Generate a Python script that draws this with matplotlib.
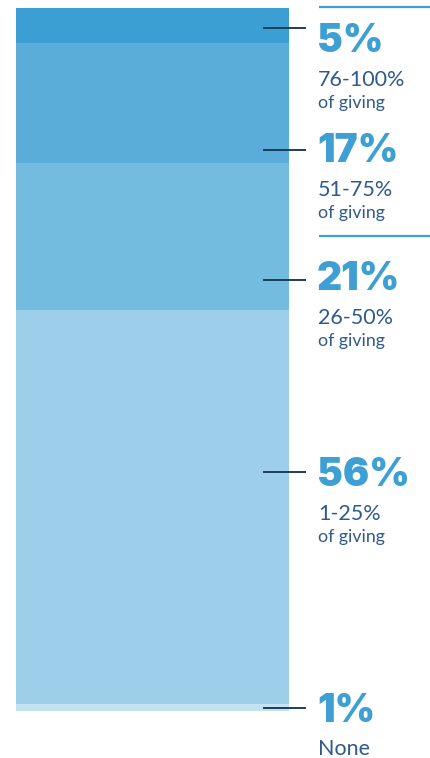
import matplotlib
matplotlib.use("Agg")
import matplotlib.pyplot as plt

# share of donors by portion of giving, bottom to top
ranges = ["None", "1-25%", "26-50%", "51-75%", "76-100%"]
shares = [1, 56, 21, 17, 5]
pct_labels = ["1%", "56%", "21%", "17%", "5%"]
sub_labels = ["None", "1-25%\nof giving", "26-50%\nof giving", "51-75%\nof giving", "76-100%\nof giving"]

seg_colors = ["#c5e2f3", "#9dcfeb", "#74bbe0", "#5aadd9", "#3c9fd4"]
accent = "#3e9fd4"
navy = "#2f5a8c"
tick_col = "#1b3f5c"

W, H = 431, 758
fig = plt.figure(figsize=(W / 100, H / 100), dpi=100)

# bar spans pixel rows 8..711, starting at x=16
bar_left, bar_w = 16, 273
top_px, bot_px = 8, 711
ax = fig.add_axes([bar_left / W, 1 - bot_px / H, (W - bar_left) / W, (bot_px - top_px) / H])
ax.set_xlim(0, W - bar_left)
ax.set_ylim(0, sum(shares))
ax.axis("off")

bottom = 0
for s, c in zip(shares, seg_colors):
    ax.bar(0, s, width=bar_w, bottom=bottom, align="edge", color=c, linewidth=0)
    bottom += s

# label anchors (pixel rows): leader line y and text center y
px_per_unit = (bot_px - top_px) / sum(shares)
def to_data(y_px):
    return (bot_px - y_px) / px_per_unit

tick_rows = [708, 472, 280, 150, 28]
text_rows = [711, 476, 280, 152, 42]

x_tick0, x_tick1 = 263 - bar_left, 306 - bar_left
x_text = 317 - bar_left
for pl, sl, tr, xr in zip(pct_labels, sub_labels, tick_rows, text_rows):
    ax.plot([x_tick0, x_tick1], [to_data(tr)] * 2, color=tick_col, lw=1.4,
            clip_on=False, solid_capstyle="butt")
    ax.text(x_text, to_data(xr), pl, color=accent, fontsize=28, fontweight=900,
            family="Inter", va="center", ha="left")
    lines = sl.split("\n")
    ax.text(x_text + 1, to_data(xr + 38), lines[0], color=navy, fontsize=15.5,
            family="Lato", va="center", ha="left")
    if len(lines) > 1:
        ax.text(x_text + 1, to_data(xr + 61), lines[1], color=navy, fontsize=12.8,
                family="Lato", va="center", ha="left")

# separator rules on the right
for y in [7, 236]:
    ax.plot([319 - bar_left, W - bar_left], [to_data(y)] * 2, color=accent, lw=1.6,
            clip_on=False, solid_capstyle="butt")

fig.savefig("out.png", dpi=100)
